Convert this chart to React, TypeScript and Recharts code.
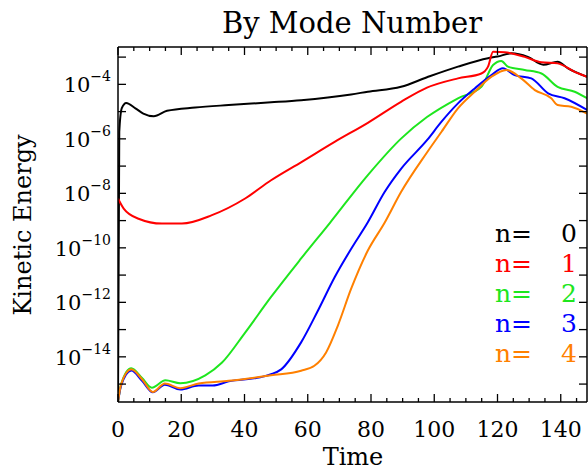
import React from "react";
import { LineChart, Line, XAxis, YAxis } from "recharts";

// time samples and kinetic energy per mode
const n0Time = [0, 0.4, 1.2, 2.6, 5.5, 8, 11.3, 15.5, 24.4, 35, 48.4, 57.9, 73.7, 79, 89.5, 97.7, 107.5, 117, 120, 124.4, 129.6, 134.5, 139, 142.3, 148.3];
const n0Energy = [2.2e-16, 1.8e-6, 1.35e-5, 2.09e-5, 1.32e-5, 8.5e-6, 6.76e-6, 1.07e-5, 1.41e-5, 1.74e-5, 2.19e-5, 2.63e-5, 4.27e-5, 5.37e-5, 8.13e-5, 1.82e-4, 4.47e-4, 9.12e-4, 1.05e-3, 1.38e-3, 1.02e-3, 5.25e-4, 6.76e-4, 3.89e-4, 1.91e-4];

const n1Time = [0, 1.8, 6.5, 13.9, 20.2, 29.7, 40.2, 48.4, 58, 68.5, 79, 89.5, 97.7, 107.5, 114.9, 117, 118.6, 122.3, 128.6, 133.9, 139, 144.4, 148.3];
const n1Energy = [6.46e-9, 2.75e-9, 1.17e-9, 7.76e-10, 7.76e-10, 1.58e-9, 6.46e-9, 3.02e-8, 1.41e-7, 7.76e-7, 3.89e-6, 2.29e-5, 7.59e-5, 1.66e-4, 2.51e-4, 4.47e-4, 1.58e-3, 1.51e-3, 1.02e-3, 6.46e-4, 5.89e-4, 2.88e-4, 1.91e-4];

const n2Time = [0, 1, 4.2, 7.6, 10.7, 15, 19.7, 27.6, 32.9, 40.2, 48.4, 57.9, 66.9, 79, 89.5, 97.7, 107.5, 114.9, 118.6, 121.2, 123.3, 128.6, 133.9, 139, 144.4, 148.3];
const n2Energy = [2.2e-16, 1.0e-15, 3.8e-15, 1.66e-15, 7.41e-16, 1.38e-15, 1.07e-15, 2.09e-15, 6.17e-15, 7.76e-14, 1.58e-12, 4.07e-11, 7.94e-10, 4.68e-8, 1.02e-6, 6.31e-6, 3.09e-5, 8.13e-5, 5.13e-4, 7.24e-4, 4.47e-4, 3.39e-4, 2.51e-4, 8.13e-5, 5.37e-5, 3.09e-5];

const n3Time = [0, 1, 4.2, 7.6, 11, 14.8, 19.7, 25.5, 30, 35, 45, 48.4, 51.6, 57.9, 63.2, 68.5, 73.7, 79, 84.3, 89.5, 97.7, 102.3, 107.5, 112.8, 118.1, 121.7, 125.4, 130.7, 136, 141.2, 148.3];
const n3Energy = [2.2e-16, 8.9e-16, 3.16e-15, 1.32e-15, 5.0e-16, 9.5e-16, 6.31e-16, 8.9e-16, 8.9e-16, 1.26e-15, 1.78e-15, 2.29e-15, 3.47e-15, 3.39e-14, 4.9e-13, 8.32e-12, 9.12e-11, 8.71e-10, 1.12e-8, 7.94e-8, 8.91e-7, 4.27e-6, 2.0e-5, 7.08e-5, 2.19e-4, 3.89e-4, 2.19e-4, 1.66e-4, 4.68e-5, 3.09e-5, 1.15e-5];

const n4Time = [0, 1, 4.2, 7.6, 11, 14.8, 19.7, 25.5, 35, 48.4, 57.9, 62.1, 65.8, 69.5, 73.7, 79, 84.3, 89.5, 97.7, 102.3, 107.5, 112.8, 118.1, 122.8, 127.5, 131.8, 137, 139, 143.3, 148.3];
const n4Energy = [2.2e-16, 1.0e-15, 3.47e-15, 1.51e-15, 5.13e-16, 1.05e-15, 7.08e-16, 1.05e-15, 1.32e-15, 2.09e-15, 3.09e-15, 4.68e-15, 1.45e-14, 1.38e-13, 3.09e-12, 7.94e-11, 8.32e-10, 1.12e-8, 3.16e-7, 1.82e-6, 1.32e-5, 5.37e-5, 1.91e-4, 3.39e-4, 1.66e-4, 6.17e-5, 3.09e-5, 1.74e-5, 1.51e-5, 8.51e-6];

const modeLabels = ["0", "1", "2", "3", "4"];
const modeColors = ["#000000", "#ff0000", "#1ee61e", "#0000ff", "#ff8000"];

const xTicks = [0, 5, 10, 15, 20, 25, 30, 35, 40, 45, 50, 55, 60, 65, 70, 75, 80, 85, 90, 95, 100, 105, 110, 115, 120, 125, 130, 135, 140, 145];
const yTicks = [1e-15, 1e-14, 1e-13, 1e-12, 1e-11, 1e-10, 1e-9, 1e-8, 1e-7, 1e-6, 1e-5, 1e-4, 1e-3];
const yLabelExps = [-14, -12, -10, -8, -6, -4];

const FONT = "DejaVu Serif";

const toPoints = (ts: number[], es: number[]) => ts.map((t, i) => ({ t, e: es[i] }));
const series = [
  toPoints(n0Time, n0Energy),
  toPoints(n1Time, n1Energy),
  toPoints(n2Time, n2Energy),
  toPoints(n3Time, n3Energy),
  toPoints(n4Time, n4Energy),
];

const BottomTick = ({ x, y, payload }: any) => {
  const v = payload.value;
  const major = v % 20 === 0;
  return (
    <g>
      <path d={`M${x},${y}V${y - (major ? 8 : 4)}`} stroke="#000" strokeWidth={1.3} fill="none" />
      {major && (
        <text x={x} y={y + 35} textAnchor="middle" fontSize={22} fontFamily={FONT} fill="#000" stroke="none">
          {v}
        </text>
      )}
    </g>
  );
};

const TopTick = ({ x, y, payload }: any) => {
  const major = payload.value % 20 === 0;
  return <path d={`M${x},${y}V${y + (major ? 8 : 4)}`} stroke="#000" strokeWidth={1.3} fill="none" />;
};

const LeftTick = ({ x, y, payload }: any) => {
  const exp = Math.round(Math.log10(payload.value));
  const labeled = yLabelExps.includes(exp);
  return (
    <g>
      <path d={`M${x},${y}H${x + 8}`} stroke="#000" strokeWidth={1.3} fill="none" />
      {labeled && (
        <text x={x - 7} y={y + 8} textAnchor="end" fontFamily={FONT} fill="#000" stroke="none">
          <tspan fontSize={21}>10</tspan>
          <tspan fontSize={14} dy={-11}>{"\u2212" + Math.abs(exp)}</tspan>
        </text>
      )}
    </g>
  );
};

const RightTick = ({ x, y }: any) => (
  <path d={`M${x},${y}H${x - 8}`} stroke="#000" strokeWidth={1.3} fill="none" />
);

export default function App() {
  return (
    <div style={{ position: "absolute", left: 0, top: 0, width: 588, height: 470, background: "#fff" }}>
      <LineChart
        width={588}
        height={470}
        margin={{ top: 46, right: 0, bottom: 38, left: 58 }}
      >
        <XAxis
          dataKey="t"
          type="number"
          domain={[0, 148.3]}
          allowDataOverflow
          ticks={xTicks}
          interval={0}
          tick={<BottomTick />}
          tickLine={false}
          tickSize={0}
          tickMargin={0}
          height={30}
          axisLine={{ stroke: "#000", strokeWidth: 1.5 }}
        />
        <XAxis
          xAxisId="top"
          orientation="top"
          dataKey="t"
          type="number"
          domain={[0, 148.3]}
          allowDataOverflow
          ticks={xTicks}
          interval={0}
          tick={<TopTick />}
          tickLine={false}
          tickSize={0}
          tickMargin={0}
          height={1}
          axisLine={{ stroke: "#000", strokeWidth: 1.5 }}
        />
        <YAxis
          type="number"
          scale="log"
          domain={[2.2e-16, 2.35e-3]}
          allowDataOverflow
          ticks={yTicks}
          interval={0}
          tick={<LeftTick />}
          tickLine={false}
          tickSize={0}
          tickMargin={0}
          width={60}
          axisLine={{ stroke: "#000", strokeWidth: 1.5 }}
        />
        <YAxis
          yAxisId="right"
          orientation="right"
          type="number"
          scale="log"
          domain={[2.2e-16, 2.35e-3]}
          allowDataOverflow
          ticks={yTicks}
          interval={0}
          tick={<RightTick />}
          tickLine={false}
          tickSize={0}
          tickMargin={0}
          width={1}
          axisLine={{ stroke: "#000", strokeWidth: 1.5 }}
        />
        {series.map((d, i) => (
          <Line
            key={i}
            data={d}
            dataKey="e"
            type="monotone"
            stroke={modeColors[i]}
            strokeWidth={2}
            dot={false}
            isAnimationActive={false}
          />
        ))}
      </LineChart>
      <svg
        width={588}
        height={470}
        style={{ position: "absolute", left: 0, top: 0, pointerEvents: "none" }}
        fontFamily={FONT}
      >
        <text x={352} y={33} textAnchor="middle" fontSize={29} fill="#000">
          By Mode Number
        </text>
        <text x={353} y={465} textAnchor="middle" fontSize={24} fill="#000">
          Time
        </text>
        <text transform="translate(31,225) rotate(-90)" textAnchor="middle" fontSize={24} fill="#000">
          Kinetic Energy
        </text>
        {modeLabels.map((m, i) => (
          <g key={m} fill={modeColors[i]} fontSize={25}>
            <text x={495} y={242 + i * 30}>n=</text>
            <text x={577} y={242 + i * 30} textAnchor="end">{m}</text>
          </g>
        ))}
      </svg>
    </div>
  );
}
